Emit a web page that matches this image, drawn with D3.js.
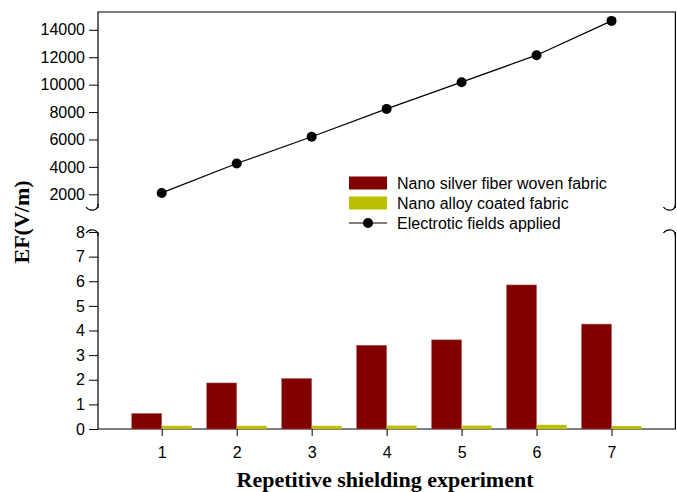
<!DOCTYPE html>
<html>
<head>
<meta charset="utf-8">
<script src="https://cdn.jsdelivr.net/npm/d3@7"></script>
<style>
  body { margin: 0; background: #fff; }
  svg { display: block; }
</style>
</head>
<body>
<svg id="chart" width="677" height="492"></svg>
<script>
const experiments = [1, 2, 3, 4, 5, 6, 7];
const silverFiber = [0.63, 1.87, 2.05, 3.4, 3.62, 5.85, 4.26];
const alloyCoated = [0.13, 0.13, 0.13, 0.14, 0.14, 0.17, 0.12];
const fieldsApplied = [2100, 4250, 6200, 8230, 10180, 12150, 14650];
const upperTicks = [2000, 4000, 6000, 8000, 10000, 12000, 14000];
const lowerTicks = [0, 1, 2, 3, 4, 5, 6, 7, 8];
const legendLabels = [
  "Nano silver fiber woven fabric",
  "Nano alloy coated fabric",
  "Electrotic fields applied"
];

const svg = d3.select("#chart");
const plotLeft = 98, plotRight = 676, plotTop = 12, plotBottom = 429;
const breakTop = 208, breakBottom = 232;

const x = d3.scaleLinear().domain([0.15, 7.86]).range([plotLeft, plotRight]);
const yUp = d3.scaleLinear().domain([1000, 15300]).range([breakTop, plotTop]);
const yLow = d3.scaleLinear().domain([0, 8]).range([plotBottom, breakBottom]);
const barW = x(1.4) - x(1);

const tickFont = "'Liberation Sans', Arial, sans-serif";
const fmt = d3.format("d");

function styleAxis(g) {
  g.selectAll("text")
    .attr("font-family", tickFont)
    .attr("font-size", 16)
    .attr("fill", "#000");
  g.selectAll("line,path").attr("stroke", "#000");
}

// upper panel axis
svg.append("g")
  .attr("transform", `translate(${plotLeft},0)`)
  .call(d3.axisLeft(yUp).tickValues(upperTicks).tickFormat(fmt).tickSize(9).tickSizeOuter(0).tickPadding(4))
  .call(styleAxis)
  .call((g) => g.select(".domain").remove());

// lower panel axis
svg.append("g")
  .attr("transform", `translate(${plotLeft},0)`)
  .call(d3.axisLeft(yLow).tickValues(lowerTicks).tickFormat(fmt).tickSize(9).tickSizeOuter(0).tickPadding(4))
  .call(styleAxis)
  .call((g) => g.select(".domain").remove());

// bottom axis
svg.append("g")
  .attr("transform", `translate(0,${plotBottom})`)
  .call(d3.axisBottom(x).tickValues(experiments).tickFormat(fmt).tickSize(7).tickSizeOuter(0).tickPadding(11))
  .call(styleAxis)
  .call((g) => g.select(".domain").remove());

// frame lines
const frame = svg.append("g").attr("stroke", "#000").attr("stroke-width", 1.2).attr("fill", "none");
frame.append("path").attr("d", `M${plotLeft},${breakTop}V${plotTop}H${plotRight - 0.6}V${breakTop}`);
frame.append("path").attr("d", `M${plotLeft},${breakBottom}V${plotBottom}H${plotRight - 0.6}V${breakBottom}`);

// axis break marks
[plotLeft, plotRight - 0.6].forEach((bx) => {
  frame.append("path")
    .attr("d", `M${bx - 12},${breakTop - 1} Q${bx - 9},${breakTop + 3} ${bx - 4},${breakTop + 2} Q${bx},${breakTop + 1} ${bx},${breakTop - 4}`);
  frame.append("path")
    .attr("d", `M${bx - 12},${breakBottom + 1} Q${bx - 9},${breakBottom - 3} ${bx - 4},${breakBottom - 2} Q${bx},${breakBottom - 1} ${bx},${breakBottom + 4}`);
});

// bars
svg.append("g")
  .selectAll("rect")
  .data(experiments)
  .join("rect")
  .attr("x", (d) => x(d) - barW)
  .attr("y", (d, i) => yLow(silverFiber[i]))
  .attr("width", barW)
  .attr("height", (d, i) => yLow(0) - yLow(silverFiber[i]))
  .attr("fill", "#800000")
  .attr("stroke", "#b36060")
  .attr("stroke-width", 0.5);

svg.append("g")
  .selectAll("rect")
  .data(experiments)
  .join("rect")
  .attr("x", (d) => x(d))
  .attr("y", (d, i) => yLow(alloyCoated[i]))
  .attr("width", barW)
  .attr("height", (d, i) => yLow(0) - yLow(alloyCoated[i]))
  .attr("fill", "#bcc000");

// line series
const line = d3.line().x((d, i) => x(experiments[i])).y((d) => yUp(d));
svg.append("path")
  .attr("d", line(fieldsApplied))
  .attr("fill", "none")
  .attr("stroke", "#000")
  .attr("stroke-width", 1.2);

svg.append("g")
  .selectAll("circle")
  .data(fieldsApplied)
  .join("circle")
  .attr("cx", (d, i) => x(experiments[i]))
  .attr("cy", (d) => yUp(d))
  .attr("r", 5)
  .attr("fill", "#000");

// legend
const legend = svg.append("g").attr("transform", "translate(349,183)");
legend.append("rect").attr("x", 0).attr("y", -6.5).attr("width", 38).attr("height", 13).attr("fill", "#800000");
legend.append("rect").attr("x", 0).attr("y", 13.5).attr("width", 38).attr("height", 13).attr("fill", "#bcc000");
legend.append("line").attr("x1", 0).attr("x2", 38).attr("y1", 40).attr("y2", 40).attr("stroke", "#000").attr("stroke-width", 1.2);
legend.append("circle").attr("cx", 19).attr("cy", 40).attr("r", 5).attr("fill", "#000");
legend.selectAll("text")
  .data(legendLabels)
  .join("text")
  .attr("x", 48)
  .attr("y", (d, i) => i * 20)
  .attr("dy", "0.35em")
  .attr("font-family", tickFont)
  .attr("font-size", 16)
  .attr("fill", "#000")
  .text((d) => d);

// axis titles
svg.append("text")
  .attr("transform", "translate(29,222) rotate(-90)")
  .attr("text-anchor", "middle")
  .attr("font-family", "'Liberation Serif', 'Times New Roman', serif")
  .attr("font-weight", "bold")
  .attr("font-size", 22)
  .text("EF(V/m)");

svg.append("text")
  .attr("x", 385)
  .attr("y", 487)
  .attr("text-anchor", "middle")
  .attr("font-family", "'Liberation Serif', 'Times New Roman', serif")
  .attr("font-weight", "bold")
  .attr("font-size", 22)
  .text("Repetitive shielding experiment");
</script>
</body>
</html>
